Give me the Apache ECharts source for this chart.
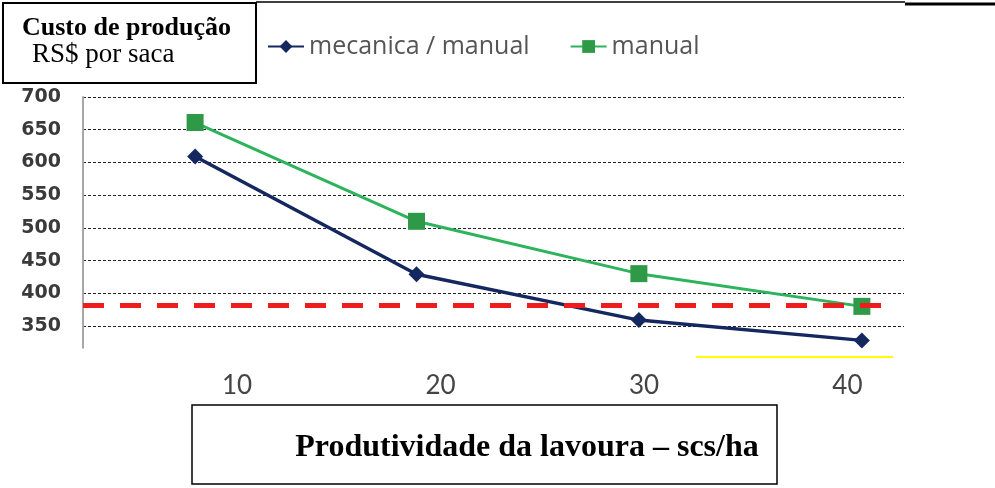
<!DOCTYPE html>
<html><head><meta charset="utf-8">
<script src="https://cdn.jsdelivr.net/npm/echarts@6/dist/echarts.min.js"></script>
<style>html,body{margin:0;padding:0;background:#fff}#c{width:995px;height:488px}</style>
</head><body><div id="c"></div>
<script>
// Data
const seriesNames = ['mecanica / manual', 'manual'];
const xPositions = [7.94, 18.82, 29.75, 40.71]; // plotted positions of the 4 points (axis units)
const mecanicaValues = [609, 429, 359, 328];
const manualValues = [661, 510, 430, 380];
const xTickLabels = [10, 20, 30, 40];
const yTickLabels = [350, 400, 450, 500, 550, 600, 650, 700];
const thresholdValue = 382;
const titleLine1 = 'Custo de produção';
const titleLine2 = 'RS$ por saca';
const xAxisTitle = 'Produtividade da lavoura – scs/ha';

const chart = echarts.init(document.getElementById('c'), null, {renderer: 'canvas'});
const pairs = (xs, ys) => xs.map((x, i) => [x, ys[i]]);

chart.setOption({
  animation: false,
  backgroundColor: '#fff',
  legend: {
    left: 262, top: 29,
    itemWidth: 36, itemHeight: 16, itemGap: 40,
    textStyle: {fontFamily: 'Open Sans', fontSize: 25, color: '#555'},
    data: seriesNames
  },
  grid: {left: 83, right: 91, top: 97, bottom: 129.3, containLabel: false},
  xAxis: {
    type: 'value', min: 2.43, max: 42.78,
    axisLine: {show: false}, axisTick: {show: false}, splitLine: {show: false},
    axisLabel: {
      customValues: xTickLabels, margin: 14,
      fontFamily: 'Lato', fontSize: 26, color: '#444'
    }
  },
  yAxis: {
    type: 'value', min: 300, max: 700, interval: 50,
    axisLine: {show: true, lineStyle: {color: '#a8a8a8', width: 2}},
    axisTick: {show: false},
    axisLabel: {
      margin: 22, fontFamily: 'DejaVu Sans', fontWeight: 'bold', fontSize: 19, color: '#3a3a3a',
      formatter: v => yTickLabels.indexOf(v) >= 0 ? String(v) : ''
    },
    splitLine: {show: true, lineStyle: {color: '#222', width: 1, type: [3, 2]}}
  },
  series: [
    {
      name: seriesNames[0], type: 'line', data: pairs(xPositions, mecanicaValues),
      symbol: 'diamond', symbolSize: 16,
      lineStyle: {color: '#14275f', width: 3.5},
      itemStyle: {color: '#14275f'},
      markLine: {
        silent: true, symbol: 'none', label: {show: false},
        lineStyle: {color: '#ee1c1c', width: 5, type: [21, 16]},
        data: [[{coord: [2.43, thresholdValue]}, {coord: [42.05, thresholdValue]}]]
      },
      z: 2
    },
    {
      name: seriesNames[1], type: 'line', data: pairs(xPositions, manualValues),
      symbol: 'rect', symbolSize: 17,
      lineStyle: {color: '#2db35c', width: 3},
      itemStyle: {color: '#2e9a48'},
      z: 3
    }
  ],
  graphic: [
    {type: 'rect', z: 100, shape: {x: 70, y: 348.5, width: 850, height: 12}, style: {fill: '#fff'}},
    {type: 'line', z: 101, shape: {x1: 696, y1: 357, x2: 893, y2: 357}, style: {stroke: '#ffff00', lineWidth: 2}},
    {type: 'line', z: 101, shape: {x1: 256, y1: 2, x2: 905, y2: 2}, style: {stroke: '#000', lineWidth: 1.5}},
    {type: 'line', z: 101, shape: {x1: 905, y1: 4, x2: 995, y2: 4}, style: {stroke: '#000', lineWidth: 3}},
    {type: 'rect', z: 101, shape: {x: 3, y: 3, width: 253, height: 80}, style: {fill: '#fff', stroke: '#000', lineWidth: 2}},
    {type: 'text', z: 102, x: 22, y: 15, style: {text: titleLine1, font: 'bold 26px "Liberation Serif"', fill: '#000'}},
    {type: 'text', z: 102, x: 32, y: 41, style: {text: titleLine2, font: '27px "Liberation Serif"', fill: '#000'}},
    {type: 'rect', z: 101, shape: {x: 192, y: 405, width: 585, height: 79}, style: {fill: '#fff', stroke: '#000', lineWidth: 1.5}},
    {type: 'text', z: 102, x: 527, y: 432, style: {text: xAxisTitle, font: 'bold 32px "Liberation Serif"', fill: '#000', align: 'center'}}
  ]
});
</script></body></html>
